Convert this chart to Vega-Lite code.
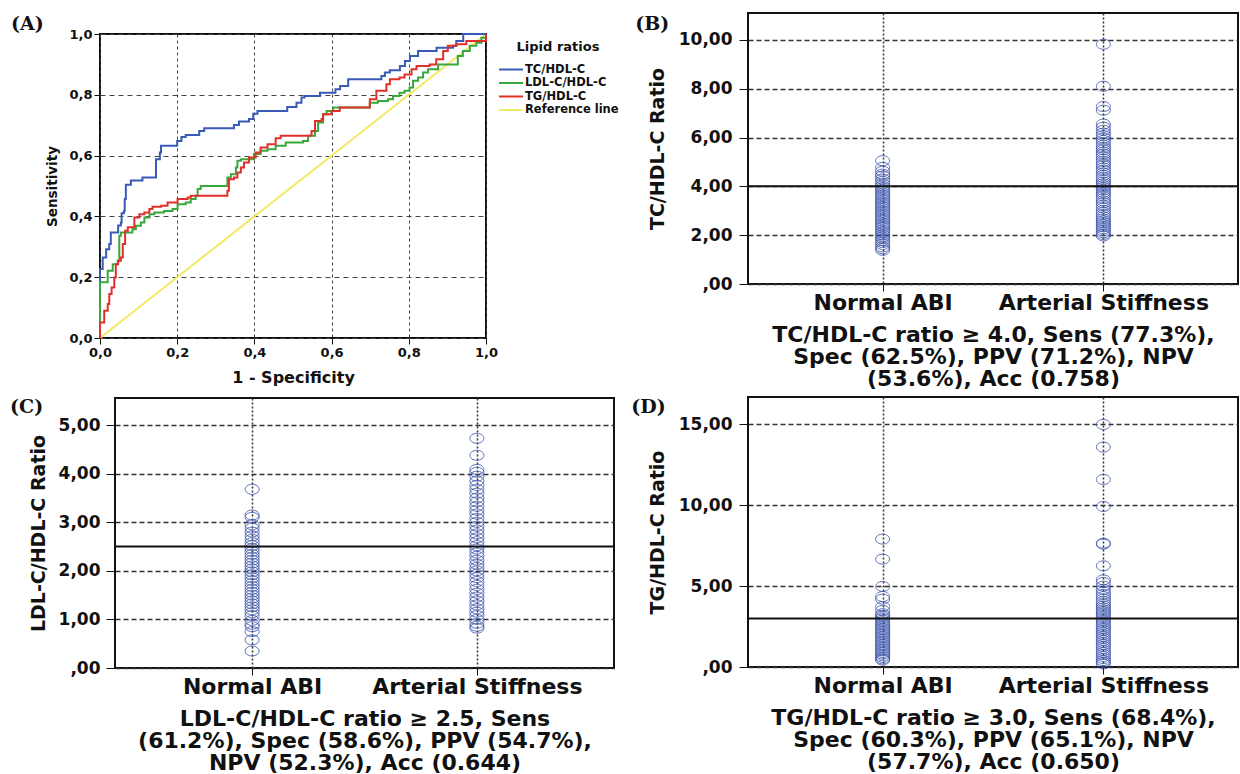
{
  "$schema": "https://vega.github.io/schema/vega-lite/v6.json",
  "background": "white",
  "padding": {"left": 8, "top": 12, "right": 0, "bottom": 0},
  "config": {
    "view": {"stroke": "#111", "strokeWidth": 2},
    "axis": {"labelFont": "DejaVu Sans", "titleFont": "DejaVu Sans", "labelFontWeight": "bold", "titleFontWeight": "bold", "labelColor": "#111", "titleColor": "#111", "tickColor": "#111", "domain": false, "gridColor": "#333", "gridOpacity": 1, "labelLimit": 0},
    "title": {"font": "DejaVu Serif", "fontSize": 19, "fontWeight": "bold", "color": "#111", "anchor": "start", "frame": "bounds"}
  },
  "datasets": {
    "roc": [
      {"s": "Reference line", "i": 0, "x": 0, "y": 0},
      {"s": "Reference line", "i": 1, "x": 1, "y": 1},
      {"s": "TC/HDL-C", "i": 0, "x": 0, "y": 0},
      {"s": "TC/HDL-C", "i": 1, "x": 0, "y": 0.227},
      {"s": "TC/HDL-C", "i": 2, "x": 0.007, "y": 0.265},
      {"s": "TC/HDL-C", "i": 3, "x": 0.016, "y": 0.292},
      {"s": "TC/HDL-C", "i": 4, "x": 0.024, "y": 0.309},
      {"s": "TC/HDL-C", "i": 5, "x": 0.028, "y": 0.347},
      {"s": "TC/HDL-C", "i": 6, "x": 0.047, "y": 0.37},
      {"s": "TC/HDL-C", "i": 7, "x": 0.054, "y": 0.38},
      {"s": "TC/HDL-C", "i": 8, "x": 0.056, "y": 0.41},
      {"s": "TC/HDL-C", "i": 9, "x": 0.062, "y": 0.418},
      {"s": "TC/HDL-C", "i": 10, "x": 0.064, "y": 0.457},
      {"s": "TC/HDL-C", "i": 11, "x": 0.067, "y": 0.504},
      {"s": "TC/HDL-C", "i": 12, "x": 0.08, "y": 0.518},
      {"s": "TC/HDL-C", "i": 13, "x": 0.11, "y": 0.528},
      {"s": "TC/HDL-C", "i": 14, "x": 0.145, "y": 0.588},
      {"s": "TC/HDL-C", "i": 15, "x": 0.155, "y": 0.61},
      {"s": "TC/HDL-C", "i": 16, "x": 0.158, "y": 0.632},
      {"s": "TC/HDL-C", "i": 17, "x": 0.2, "y": 0.648},
      {"s": "TC/HDL-C", "i": 18, "x": 0.211, "y": 0.661},
      {"s": "TC/HDL-C", "i": 19, "x": 0.222, "y": 0.668},
      {"s": "TC/HDL-C", "i": 20, "x": 0.257, "y": 0.681},
      {"s": "TC/HDL-C", "i": 21, "x": 0.27, "y": 0.69},
      {"s": "TC/HDL-C", "i": 22, "x": 0.347, "y": 0.701},
      {"s": "TC/HDL-C", "i": 23, "x": 0.36, "y": 0.712},
      {"s": "TC/HDL-C", "i": 24, "x": 0.386, "y": 0.72},
      {"s": "TC/HDL-C", "i": 25, "x": 0.397, "y": 0.738},
      {"s": "TC/HDL-C", "i": 26, "x": 0.408, "y": 0.747},
      {"s": "TC/HDL-C", "i": 27, "x": 0.485, "y": 0.76},
      {"s": "TC/HDL-C", "i": 28, "x": 0.509, "y": 0.774},
      {"s": "TC/HDL-C", "i": 29, "x": 0.522, "y": 0.791},
      {"s": "TC/HDL-C", "i": 30, "x": 0.53, "y": 0.796},
      {"s": "TC/HDL-C", "i": 31, "x": 0.57, "y": 0.807},
      {"s": "TC/HDL-C", "i": 32, "x": 0.61, "y": 0.818},
      {"s": "TC/HDL-C", "i": 33, "x": 0.622, "y": 0.829},
      {"s": "TC/HDL-C", "i": 34, "x": 0.643, "y": 0.851},
      {"s": "TC/HDL-C", "i": 35, "x": 0.729, "y": 0.862},
      {"s": "TC/HDL-C", "i": 36, "x": 0.738, "y": 0.873},
      {"s": "TC/HDL-C", "i": 37, "x": 0.751, "y": 0.881},
      {"s": "TC/HDL-C", "i": 38, "x": 0.777, "y": 0.895},
      {"s": "TC/HDL-C", "i": 39, "x": 0.79, "y": 0.911},
      {"s": "TC/HDL-C", "i": 40, "x": 0.803, "y": 0.928},
      {"s": "TC/HDL-C", "i": 41, "x": 0.824, "y": 0.944},
      {"s": "TC/HDL-C", "i": 42, "x": 0.872, "y": 0.955},
      {"s": "TC/HDL-C", "i": 43, "x": 0.915, "y": 0.961},
      {"s": "TC/HDL-C", "i": 44, "x": 0.923, "y": 0.977},
      {"s": "TC/HDL-C", "i": 45, "x": 0.941, "y": 1.0},
      {"s": "TC/HDL-C", "i": 46, "x": 1.0, "y": 1.0},
      {"s": "LDL-C/HDL-C", "i": 0, "x": 0, "y": 0},
      {"s": "LDL-C/HDL-C", "i": 1, "x": 0, "y": 0.183},
      {"s": "LDL-C/HDL-C", "i": 2, "x": 0.02, "y": 0.221},
      {"s": "LDL-C/HDL-C", "i": 3, "x": 0.033, "y": 0.243},
      {"s": "LDL-C/HDL-C", "i": 4, "x": 0.046, "y": 0.254},
      {"s": "LDL-C/HDL-C", "i": 5, "x": 0.05, "y": 0.336},
      {"s": "LDL-C/HDL-C", "i": 6, "x": 0.054, "y": 0.347},
      {"s": "LDL-C/HDL-C", "i": 7, "x": 0.084, "y": 0.358},
      {"s": "LDL-C/HDL-C", "i": 8, "x": 0.093, "y": 0.369},
      {"s": "LDL-C/HDL-C", "i": 9, "x": 0.106, "y": 0.38},
      {"s": "LDL-C/HDL-C", "i": 10, "x": 0.115, "y": 0.396},
      {"s": "LDL-C/HDL-C", "i": 11, "x": 0.128, "y": 0.407},
      {"s": "LDL-C/HDL-C", "i": 12, "x": 0.141, "y": 0.413},
      {"s": "LDL-C/HDL-C", "i": 13, "x": 0.166, "y": 0.418},
      {"s": "LDL-C/HDL-C", "i": 14, "x": 0.188, "y": 0.424},
      {"s": "LDL-C/HDL-C", "i": 15, "x": 0.201, "y": 0.44},
      {"s": "LDL-C/HDL-C", "i": 16, "x": 0.222, "y": 0.446},
      {"s": "LDL-C/HDL-C", "i": 17, "x": 0.235, "y": 0.457},
      {"s": "LDL-C/HDL-C", "i": 18, "x": 0.248, "y": 0.468},
      {"s": "LDL-C/HDL-C", "i": 19, "x": 0.253, "y": 0.49},
      {"s": "LDL-C/HDL-C", "i": 20, "x": 0.261, "y": 0.5},
      {"s": "LDL-C/HDL-C", "i": 21, "x": 0.33, "y": 0.528},
      {"s": "LDL-C/HDL-C", "i": 22, "x": 0.339, "y": 0.539},
      {"s": "LDL-C/HDL-C", "i": 23, "x": 0.352, "y": 0.561},
      {"s": "LDL-C/HDL-C", "i": 24, "x": 0.356, "y": 0.583},
      {"s": "LDL-C/HDL-C", "i": 25, "x": 0.365, "y": 0.588},
      {"s": "LDL-C/HDL-C", "i": 26, "x": 0.399, "y": 0.605},
      {"s": "LDL-C/HDL-C", "i": 27, "x": 0.416, "y": 0.616},
      {"s": "LDL-C/HDL-C", "i": 28, "x": 0.434, "y": 0.621},
      {"s": "LDL-C/HDL-C", "i": 29, "x": 0.455, "y": 0.632},
      {"s": "LDL-C/HDL-C", "i": 30, "x": 0.481, "y": 0.643},
      {"s": "LDL-C/HDL-C", "i": 31, "x": 0.526, "y": 0.648},
      {"s": "LDL-C/HDL-C", "i": 32, "x": 0.539, "y": 0.665},
      {"s": "LDL-C/HDL-C", "i": 33, "x": 0.557, "y": 0.681},
      {"s": "LDL-C/HDL-C", "i": 34, "x": 0.565, "y": 0.709},
      {"s": "LDL-C/HDL-C", "i": 35, "x": 0.578, "y": 0.736},
      {"s": "LDL-C/HDL-C", "i": 36, "x": 0.587, "y": 0.747},
      {"s": "LDL-C/HDL-C", "i": 37, "x": 0.604, "y": 0.758},
      {"s": "LDL-C/HDL-C", "i": 38, "x": 0.699, "y": 0.774},
      {"s": "LDL-C/HDL-C", "i": 39, "x": 0.72, "y": 0.78},
      {"s": "LDL-C/HDL-C", "i": 40, "x": 0.746, "y": 0.785},
      {"s": "LDL-C/HDL-C", "i": 41, "x": 0.759, "y": 0.796},
      {"s": "LDL-C/HDL-C", "i": 42, "x": 0.776, "y": 0.807},
      {"s": "LDL-C/HDL-C", "i": 43, "x": 0.789, "y": 0.813},
      {"s": "LDL-C/HDL-C", "i": 44, "x": 0.802, "y": 0.824},
      {"s": "LDL-C/HDL-C", "i": 45, "x": 0.811, "y": 0.846},
      {"s": "LDL-C/HDL-C", "i": 46, "x": 0.824, "y": 0.857},
      {"s": "LDL-C/HDL-C", "i": 47, "x": 0.837, "y": 0.873},
      {"s": "LDL-C/HDL-C", "i": 48, "x": 0.85, "y": 0.884},
      {"s": "LDL-C/HDL-C", "i": 49, "x": 0.876, "y": 0.9},
      {"s": "LDL-C/HDL-C", "i": 50, "x": 0.927, "y": 0.928},
      {"s": "LDL-C/HDL-C", "i": 51, "x": 0.94, "y": 0.944},
      {"s": "LDL-C/HDL-C", "i": 52, "x": 0.958, "y": 0.961},
      {"s": "LDL-C/HDL-C", "i": 53, "x": 0.975, "y": 0.971},
      {"s": "LDL-C/HDL-C", "i": 54, "x": 0.988, "y": 0.988},
      {"s": "LDL-C/HDL-C", "i": 55, "x": 1.0, "y": 1.0},
      {"s": "TG/HDL-C", "i": 0, "x": 0, "y": 0},
      {"s": "TG/HDL-C", "i": 1, "x": 0, "y": 0.051},
      {"s": "TG/HDL-C", "i": 2, "x": 0.011, "y": 0.09},
      {"s": "TG/HDL-C", "i": 3, "x": 0.02, "y": 0.112},
      {"s": "TG/HDL-C", "i": 4, "x": 0.024, "y": 0.145},
      {"s": "TG/HDL-C", "i": 5, "x": 0.03, "y": 0.166},
      {"s": "TG/HDL-C", "i": 6, "x": 0.037, "y": 0.199},
      {"s": "TG/HDL-C", "i": 7, "x": 0.041, "y": 0.243},
      {"s": "TG/HDL-C", "i": 8, "x": 0.047, "y": 0.254},
      {"s": "TG/HDL-C", "i": 9, "x": 0.054, "y": 0.265},
      {"s": "TG/HDL-C", "i": 10, "x": 0.059, "y": 0.309},
      {"s": "TG/HDL-C", "i": 11, "x": 0.065, "y": 0.353},
      {"s": "TG/HDL-C", "i": 12, "x": 0.072, "y": 0.364},
      {"s": "TG/HDL-C", "i": 13, "x": 0.089, "y": 0.396},
      {"s": "TG/HDL-C", "i": 14, "x": 0.102, "y": 0.407},
      {"s": "TG/HDL-C", "i": 15, "x": 0.115, "y": 0.413},
      {"s": "TG/HDL-C", "i": 16, "x": 0.128, "y": 0.424},
      {"s": "TG/HDL-C", "i": 17, "x": 0.136, "y": 0.432},
      {"s": "TG/HDL-C", "i": 18, "x": 0.158, "y": 0.435},
      {"s": "TG/HDL-C", "i": 19, "x": 0.175, "y": 0.446},
      {"s": "TG/HDL-C", "i": 20, "x": 0.201, "y": 0.457},
      {"s": "TG/HDL-C", "i": 21, "x": 0.227, "y": 0.462},
      {"s": "TG/HDL-C", "i": 22, "x": 0.235, "y": 0.468},
      {"s": "TG/HDL-C", "i": 23, "x": 0.33, "y": 0.484},
      {"s": "TG/HDL-C", "i": 24, "x": 0.334, "y": 0.522},
      {"s": "TG/HDL-C", "i": 25, "x": 0.347, "y": 0.528},
      {"s": "TG/HDL-C", "i": 26, "x": 0.356, "y": 0.544},
      {"s": "TG/HDL-C", "i": 27, "x": 0.365, "y": 0.561},
      {"s": "TG/HDL-C", "i": 28, "x": 0.373, "y": 0.577},
      {"s": "TG/HDL-C", "i": 29, "x": 0.386, "y": 0.594},
      {"s": "TG/HDL-C", "i": 30, "x": 0.403, "y": 0.61},
      {"s": "TG/HDL-C", "i": 31, "x": 0.416, "y": 0.627},
      {"s": "TG/HDL-C", "i": 32, "x": 0.434, "y": 0.637},
      {"s": "TG/HDL-C", "i": 33, "x": 0.455, "y": 0.657},
      {"s": "TG/HDL-C", "i": 34, "x": 0.468, "y": 0.665},
      {"s": "TG/HDL-C", "i": 35, "x": 0.548, "y": 0.681},
      {"s": "TG/HDL-C", "i": 36, "x": 0.557, "y": 0.714},
      {"s": "TG/HDL-C", "i": 37, "x": 0.574, "y": 0.72},
      {"s": "TG/HDL-C", "i": 38, "x": 0.578, "y": 0.736},
      {"s": "TG/HDL-C", "i": 39, "x": 0.6, "y": 0.747},
      {"s": "TG/HDL-C", "i": 40, "x": 0.621, "y": 0.758},
      {"s": "TG/HDL-C", "i": 41, "x": 0.699, "y": 0.785},
      {"s": "TG/HDL-C", "i": 42, "x": 0.716, "y": 0.813},
      {"s": "TG/HDL-C", "i": 43, "x": 0.742, "y": 0.835},
      {"s": "TG/HDL-C", "i": 44, "x": 0.751, "y": 0.851},
      {"s": "TG/HDL-C", "i": 45, "x": 0.776, "y": 0.857},
      {"s": "TG/HDL-C", "i": 46, "x": 0.789, "y": 0.867},
      {"s": "TG/HDL-C", "i": 47, "x": 0.807, "y": 0.884},
      {"s": "TG/HDL-C", "i": 48, "x": 0.82, "y": 0.895},
      {"s": "TG/HDL-C", "i": 49, "x": 0.854, "y": 0.9},
      {"s": "TG/HDL-C", "i": 50, "x": 0.871, "y": 0.917},
      {"s": "TG/HDL-C", "i": 51, "x": 0.889, "y": 0.944},
      {"s": "TG/HDL-C", "i": 52, "x": 0.901, "y": 0.961},
      {"s": "TG/HDL-C", "i": 53, "x": 0.923, "y": 0.966},
      {"s": "TG/HDL-C", "i": 54, "x": 0.949, "y": 0.977},
      {"s": "TG/HDL-C", "i": 55, "x": 1.0, "y": 1.0}
    ],
    "tc": [
      {"g": "Normal ABI", "v": 5.05}, {"g": "Normal ABI", "v": 4.78}, {"g": "Normal ABI", "v": 4.62}, {"g": "Normal ABI", "v": 4.5}, {"g": "Normal ABI", "v": 4.42}, {"g": "Normal ABI", "v": 4.3}, {"g": "Normal ABI", "v": 4.2}, {"g": "Normal ABI", "v": 4.1}, {"g": "Normal ABI", "v": 4.02}, {"g": "Normal ABI", "v": 3.95}, {"g": "Normal ABI", "v": 3.88}, {"g": "Normal ABI", "v": 3.8}, {"g": "Normal ABI", "v": 3.72}, {"g": "Normal ABI", "v": 3.65}, {"g": "Normal ABI", "v": 3.58}, {"g": "Normal ABI", "v": 3.5}, {"g": "Normal ABI", "v": 3.43}, {"g": "Normal ABI", "v": 3.36}, {"g": "Normal ABI", "v": 3.3}, {"g": "Normal ABI", "v": 3.22}, {"g": "Normal ABI", "v": 3.15}, {"g": "Normal ABI", "v": 3.08}, {"g": "Normal ABI", "v": 3.0}, {"g": "Normal ABI", "v": 2.93}, {"g": "Normal ABI", "v": 2.86}, {"g": "Normal ABI", "v": 2.8}, {"g": "Normal ABI", "v": 2.72}, {"g": "Normal ABI", "v": 2.65}, {"g": "Normal ABI", "v": 2.58}, {"g": "Normal ABI", "v": 2.5}, {"g": "Normal ABI", "v": 2.43}, {"g": "Normal ABI", "v": 2.36}, {"g": "Normal ABI", "v": 2.3}, {"g": "Normal ABI", "v": 2.22}, {"g": "Normal ABI", "v": 2.15}, {"g": "Normal ABI", "v": 2.08}, {"g": "Normal ABI", "v": 2.0}, {"g": "Normal ABI", "v": 1.93}, {"g": "Normal ABI", "v": 1.86}, {"g": "Normal ABI", "v": 1.78}, {"g": "Normal ABI", "v": 1.7}, {"g": "Normal ABI", "v": 1.62}, {"g": "Normal ABI", "v": 1.52}, {"g": "Normal ABI", "v": 1.45}, {"g": "Normal ABI", "v": 1.38},
      {"g": "Arterial Stiffness", "v": 9.82}, {"g": "Arterial Stiffness", "v": 8.1}, {"g": "Arterial Stiffness", "v": 7.27}, {"g": "Arterial Stiffness", "v": 7.12}, {"g": "Arterial Stiffness", "v": 6.55}, {"g": "Arterial Stiffness", "v": 6.42}, {"g": "Arterial Stiffness", "v": 6.3}, {"g": "Arterial Stiffness", "v": 6.18}, {"g": "Arterial Stiffness", "v": 6.08}, {"g": "Arterial Stiffness", "v": 5.98}, {"g": "Arterial Stiffness", "v": 5.88}, {"g": "Arterial Stiffness", "v": 5.78}, {"g": "Arterial Stiffness", "v": 5.68}, {"g": "Arterial Stiffness", "v": 5.58}, {"g": "Arterial Stiffness", "v": 5.5}, {"g": "Arterial Stiffness", "v": 5.4}, {"g": "Arterial Stiffness", "v": 5.32}, {"g": "Arterial Stiffness", "v": 5.22}, {"g": "Arterial Stiffness", "v": 5.12}, {"g": "Arterial Stiffness", "v": 5.02}, {"g": "Arterial Stiffness", "v": 4.92}, {"g": "Arterial Stiffness", "v": 4.85}, {"g": "Arterial Stiffness", "v": 4.75}, {"g": "Arterial Stiffness", "v": 4.65}, {"g": "Arterial Stiffness", "v": 4.55}, {"g": "Arterial Stiffness", "v": 4.45}, {"g": "Arterial Stiffness", "v": 4.36}, {"g": "Arterial Stiffness", "v": 4.27}, {"g": "Arterial Stiffness", "v": 4.18}, {"g": "Arterial Stiffness", "v": 4.1}, {"g": "Arterial Stiffness", "v": 4.02}, {"g": "Arterial Stiffness", "v": 3.94}, {"g": "Arterial Stiffness", "v": 3.85}, {"g": "Arterial Stiffness", "v": 3.76}, {"g": "Arterial Stiffness", "v": 3.68}, {"g": "Arterial Stiffness", "v": 3.6}, {"g": "Arterial Stiffness", "v": 3.5}, {"g": "Arterial Stiffness", "v": 3.4}, {"g": "Arterial Stiffness", "v": 3.32}, {"g": "Arterial Stiffness", "v": 3.22}, {"g": "Arterial Stiffness", "v": 3.12}, {"g": "Arterial Stiffness", "v": 3.02}, {"g": "Arterial Stiffness", "v": 2.93}, {"g": "Arterial Stiffness", "v": 2.84}, {"g": "Arterial Stiffness", "v": 2.75}, {"g": "Arterial Stiffness", "v": 2.66}, {"g": "Arterial Stiffness", "v": 2.58}, {"g": "Arterial Stiffness", "v": 2.5}, {"g": "Arterial Stiffness", "v": 2.42}, {"g": "Arterial Stiffness", "v": 2.34}, {"g": "Arterial Stiffness", "v": 2.26}, {"g": "Arterial Stiffness", "v": 2.18}, {"g": "Arterial Stiffness", "v": 2.1}, {"g": "Arterial Stiffness", "v": 2.03}, {"g": "Arterial Stiffness", "v": 1.97}
    ],
    "ldl": [
      {"g": "Normal ABI", "v": 3.68}, {"g": "Normal ABI", "v": 3.15}, {"g": "Normal ABI", "v": 3.1}, {"g": "Normal ABI", "v": 2.95}, {"g": "Normal ABI", "v": 2.88}, {"g": "Normal ABI", "v": 2.8}, {"g": "Normal ABI", "v": 2.72}, {"g": "Normal ABI", "v": 2.65}, {"g": "Normal ABI", "v": 2.58}, {"g": "Normal ABI", "v": 2.52}, {"g": "Normal ABI", "v": 2.46}, {"g": "Normal ABI", "v": 2.4}, {"g": "Normal ABI", "v": 2.34}, {"g": "Normal ABI", "v": 2.28}, {"g": "Normal ABI", "v": 2.22}, {"g": "Normal ABI", "v": 2.16}, {"g": "Normal ABI", "v": 2.1}, {"g": "Normal ABI", "v": 2.04}, {"g": "Normal ABI", "v": 1.98}, {"g": "Normal ABI", "v": 1.92}, {"g": "Normal ABI", "v": 1.86}, {"g": "Normal ABI", "v": 1.8}, {"g": "Normal ABI", "v": 1.74}, {"g": "Normal ABI", "v": 1.68}, {"g": "Normal ABI", "v": 1.62}, {"g": "Normal ABI", "v": 1.56}, {"g": "Normal ABI", "v": 1.5}, {"g": "Normal ABI", "v": 1.44}, {"g": "Normal ABI", "v": 1.38}, {"g": "Normal ABI", "v": 1.32}, {"g": "Normal ABI", "v": 1.26}, {"g": "Normal ABI", "v": 1.2}, {"g": "Normal ABI", "v": 1.14}, {"g": "Normal ABI", "v": 1.08}, {"g": "Normal ABI", "v": 0.98}, {"g": "Normal ABI", "v": 0.9}, {"g": "Normal ABI", "v": 0.85}, {"g": "Normal ABI", "v": 0.75}, {"g": "Normal ABI", "v": 0.58}, {"g": "Normal ABI", "v": 0.35},
      {"g": "Arterial Stiffness", "v": 4.73}, {"g": "Arterial Stiffness", "v": 4.38}, {"g": "Arterial Stiffness", "v": 4.09}, {"g": "Arterial Stiffness", "v": 4.03}, {"g": "Arterial Stiffness", "v": 3.95}, {"g": "Arterial Stiffness", "v": 3.85}, {"g": "Arterial Stiffness", "v": 3.76}, {"g": "Arterial Stiffness", "v": 3.68}, {"g": "Arterial Stiffness", "v": 3.6}, {"g": "Arterial Stiffness", "v": 3.5}, {"g": "Arterial Stiffness", "v": 3.42}, {"g": "Arterial Stiffness", "v": 3.33}, {"g": "Arterial Stiffness", "v": 3.25}, {"g": "Arterial Stiffness", "v": 3.17}, {"g": "Arterial Stiffness", "v": 3.08}, {"g": "Arterial Stiffness", "v": 3.0}, {"g": "Arterial Stiffness", "v": 2.92}, {"g": "Arterial Stiffness", "v": 2.84}, {"g": "Arterial Stiffness", "v": 2.76}, {"g": "Arterial Stiffness", "v": 2.68}, {"g": "Arterial Stiffness", "v": 2.6}, {"g": "Arterial Stiffness", "v": 2.52}, {"g": "Arterial Stiffness", "v": 2.45}, {"g": "Arterial Stiffness", "v": 2.37}, {"g": "Arterial Stiffness", "v": 2.3}, {"g": "Arterial Stiffness", "v": 2.22}, {"g": "Arterial Stiffness", "v": 2.14}, {"g": "Arterial Stiffness", "v": 2.07}, {"g": "Arterial Stiffness", "v": 2.0}, {"g": "Arterial Stiffness", "v": 1.93}, {"g": "Arterial Stiffness", "v": 1.86}, {"g": "Arterial Stiffness", "v": 1.78}, {"g": "Arterial Stiffness", "v": 1.7}, {"g": "Arterial Stiffness", "v": 1.62}, {"g": "Arterial Stiffness", "v": 1.54}, {"g": "Arterial Stiffness", "v": 1.46}, {"g": "Arterial Stiffness", "v": 1.38}, {"g": "Arterial Stiffness", "v": 1.3}, {"g": "Arterial Stiffness", "v": 1.22}, {"g": "Arterial Stiffness", "v": 1.15}, {"g": "Arterial Stiffness", "v": 1.08}, {"g": "Arterial Stiffness", "v": 1.0}, {"g": "Arterial Stiffness", "v": 0.92}, {"g": "Arterial Stiffness", "v": 0.86}, {"g": "Arterial Stiffness", "v": 0.82}
    ],
    "tg": [
      {"g": "Normal ABI", "v": 7.91}, {"g": "Normal ABI", "v": 6.67}, {"g": "Normal ABI", "v": 4.98}, {"g": "Normal ABI", "v": 4.36}, {"g": "Normal ABI", "v": 4.2}, {"g": "Normal ABI", "v": 3.74}, {"g": "Normal ABI", "v": 3.5}, {"g": "Normal ABI", "v": 3.3}, {"g": "Normal ABI", "v": 3.2}, {"g": "Normal ABI", "v": 3.1}, {"g": "Normal ABI", "v": 3.0}, {"g": "Normal ABI", "v": 2.9}, {"g": "Normal ABI", "v": 2.8}, {"g": "Normal ABI", "v": 2.7}, {"g": "Normal ABI", "v": 2.6}, {"g": "Normal ABI", "v": 2.5}, {"g": "Normal ABI", "v": 2.4}, {"g": "Normal ABI", "v": 2.3}, {"g": "Normal ABI", "v": 2.2}, {"g": "Normal ABI", "v": 2.1}, {"g": "Normal ABI", "v": 2.0}, {"g": "Normal ABI", "v": 1.9}, {"g": "Normal ABI", "v": 1.8}, {"g": "Normal ABI", "v": 1.7}, {"g": "Normal ABI", "v": 1.6}, {"g": "Normal ABI", "v": 1.5}, {"g": "Normal ABI", "v": 1.4}, {"g": "Normal ABI", "v": 1.3}, {"g": "Normal ABI", "v": 1.2}, {"g": "Normal ABI", "v": 1.1}, {"g": "Normal ABI", "v": 1.0}, {"g": "Normal ABI", "v": 0.9}, {"g": "Normal ABI", "v": 0.8}, {"g": "Normal ABI", "v": 0.7}, {"g": "Normal ABI", "v": 0.6}, {"g": "Normal ABI", "v": 0.5}, {"g": "Normal ABI", "v": 0.43},
      {"g": "Arterial Stiffness", "v": 15.0}, {"g": "Arterial Stiffness", "v": 13.6}, {"g": "Arterial Stiffness", "v": 11.6}, {"g": "Arterial Stiffness", "v": 9.93}, {"g": "Arterial Stiffness", "v": 7.66}, {"g": "Arterial Stiffness", "v": 7.6}, {"g": "Arterial Stiffness", "v": 6.26}, {"g": "Arterial Stiffness", "v": 5.39}, {"g": "Arterial Stiffness", "v": 5.23}, {"g": "Arterial Stiffness", "v": 5.0}, {"g": "Arterial Stiffness", "v": 4.8}, {"g": "Arterial Stiffness", "v": 4.65}, {"g": "Arterial Stiffness", "v": 4.5}, {"g": "Arterial Stiffness", "v": 4.35}, {"g": "Arterial Stiffness", "v": 4.2}, {"g": "Arterial Stiffness", "v": 4.05}, {"g": "Arterial Stiffness", "v": 3.9}, {"g": "Arterial Stiffness", "v": 3.78}, {"g": "Arterial Stiffness", "v": 3.65}, {"g": "Arterial Stiffness", "v": 3.52}, {"g": "Arterial Stiffness", "v": 3.4}, {"g": "Arterial Stiffness", "v": 3.28}, {"g": "Arterial Stiffness", "v": 3.15}, {"g": "Arterial Stiffness", "v": 3.02}, {"g": "Arterial Stiffness", "v": 2.9}, {"g": "Arterial Stiffness", "v": 2.78}, {"g": "Arterial Stiffness", "v": 2.65}, {"g": "Arterial Stiffness", "v": 2.52}, {"g": "Arterial Stiffness", "v": 2.4}, {"g": "Arterial Stiffness", "v": 2.28}, {"g": "Arterial Stiffness", "v": 2.15}, {"g": "Arterial Stiffness", "v": 2.02}, {"g": "Arterial Stiffness", "v": 1.9}, {"g": "Arterial Stiffness", "v": 1.78}, {"g": "Arterial Stiffness", "v": 1.65}, {"g": "Arterial Stiffness", "v": 1.52}, {"g": "Arterial Stiffness", "v": 1.4}, {"g": "Arterial Stiffness", "v": 1.28}, {"g": "Arterial Stiffness", "v": 1.15}, {"g": "Arterial Stiffness", "v": 1.02}, {"g": "Arterial Stiffness", "v": 0.9}, {"g": "Arterial Stiffness", "v": 0.78}, {"g": "Arterial Stiffness", "v": 0.65}, {"g": "Arterial Stiffness", "v": 0.52}, {"g": "Arterial Stiffness", "v": 0.4}, {"g": "Arterial Stiffness", "v": 0.3}, {"g": "Arterial Stiffness", "v": 0.19}
    ]
  },
  "resolve": {"scale": {"color": "independent"}},
  "spacing": 3,
  "hconcat": [
    {
      "resolve": {"scale": {"color": "independent"}},
      "spacing": 11,
      "vconcat": [
        {
          "resolve": {"scale": {"color": "independent"}},
          "spacing": 0,
          "vconcat": [
            {"width": 1, "height": 1, "view": {"stroke": null}, "data": {"values": []}, "mark": "point"},
            {
              "resolve": {"scale": {"color": "independent"}},
              "spacing": 0,
              "hconcat": [
                {"width": 1, "height": 1, "view": {"stroke": null}, "data": {"values": []}, "mark": "point"},
                {
                  "width": 386, "height": 304,
                  "title": {"text": "(A)", "offset": -6, "dx": -35},
                  "data": {"name": "roc"},
                  "encoding": {
                    "x": {"field": "x", "type": "quantitative", "scale": {"domain": [0, 1], "nice": false}, "title": "1 - Specificity",
                          "axis": {"values": [0, 0.2, 0.4, 0.6, 0.8, 1], "labelExpr": "replace(format(datum.value, '.1f'), '.', ',')", "labelFontSize": 13, "tickSize": 6, "labelPadding": 2, "labelFlush": false, "titleFontSize": 16, "titlePadding": 10, "grid": true, "gridDash": [3, 3], "gridColor": "#444", "gridWidth": 1}},
                    "y": {"field": "y", "type": "quantitative", "scale": {"domain": [0, 1], "nice": false}, "title": "Sensitivity",
                          "axis": {"values": [0, 0.2, 0.4, 0.6, 0.8, 1], "labelExpr": "replace(format(datum.value, '.1f'), '.', ',')", "labelFontSize": 13, "tickSize": 6, "labelPadding": 2, "labelFlush": false, "titleFontSize": 13.5, "titlePadding": 9, "grid": true, "gridDash": [5, 4], "gridColor": "#444", "gridWidth": 1}},
                    "color": {"field": "s", "type": "nominal",
                              "scale": {"domain": ["TC/HDL-C", "LDL-C/HDL-C", "TG/HDL-C", "Reference line"], "range": ["#3a5ab8", "#38a83c", "#e0302a", "#f2ea64"]},
                              "legend": {"title": "Lipid ratios", "orient": "right", "offset": 1, "padding": 7, "titleFont": "DejaVu Sans", "titleFontSize": 13, "titleFontWeight": "bold", "titleColor": "#111", "titleAnchor": "middle", "titlePadding": 9, "labelFont": "DejaVu Sans", "labelFontSize": 11.5, "labelFontWeight": "bold", "labelColor": "#111", "symbolType": "M-1,0L3.36,0", "symbolSize": 121, "symbolStrokeWidth": 2, "labelOffset": 14, "rowPadding": 1.5}},
                    "order": {"field": "i", "type": "quantitative"}
                  },
                  "layer": [
                    {"transform": [{"filter": "datum.s == 'Reference line'"}], "mark": {"type": "line", "strokeWidth": 2}},
                    {"transform": [{"filter": "datum.s != 'Reference line'"}], "mark": {"type": "line", "strokeWidth": 2, "interpolate": "step-after"}}
                  ]
                }
              ]
            }
          ]
        },
        {
          "spacing": 0,
          "hconcat": [
            {"width": 1, "height": 1, "view": {"stroke": null}, "data": {"values": []}, "mark": "point"},
            {
              "width": 499, "height": 270,
              "title": {"text": "(C)", "offset": -19, "dx": -19},
              "layer": [
                {
                  "data": {"name": "ldl"},
                  "mark": {"type": "point", "shape": "M-1.4,0A1.4,1,0,1,1,1.4,0A1.4,1,0,1,1,-1.4,0Z", "filled": false, "size": 100, "color": "#3d57b0", "strokeWidth": 1, "opacity": 0.85},
                  "encoding": {
                    "x": {"field": "g", "type": "nominal", "sort": ["Normal ABI", "Arterial Stiffness"], "scale": {"type": "point", "padding": 0.61},
                          "title": ["LDL-C/HDL-C ratio ≥ 2.5, Sens", "(61.2%), Spec (58.6%), PPV (54.7%),", "NPV (52.3%), Acc (0.644)"],
                          "axis": {"labelAngle": 0, "labelFontSize": 22, "labelPadding": 1, "tickSize": 7, "titleFontSize": 22, "titleLineHeight": 22, "titlePadding": 11, "grid": true, "gridDash": [2, 2], "gridWidth": 1.5}},
                    "y": {"field": "v", "type": "quantitative", "scale": {"domain": [0, 5.56], "nice": false}, "title": "LDL-C/HDL-C Ratio",
                          "axis": {"values": [0, 1, 2, 3, 4, 5], "labelExpr": "datum.value == 0 ? ',00' : replace(format(datum.value, '.2f'), '.', ',')", "labelFontSize": 17, "tickSize": 9, "labelPadding": 6, "titleFontSize": 19, "titlePadding": 10, "grid": true, "gridDash": [5, 3], "gridWidth": 1.3}}
                  }
                },
                {
                  "data": {"values": [{"cut": 2.5}]},
                  "mark": {"type": "rule", "color": "#111", "strokeWidth": 2},
                  "encoding": {"y": {"field": "cut", "type": "quantitative", "title": "LDL-C/HDL-C Ratio"}}
                }
              ]
            }
          ]
        }
      ]
    },
    {
      "spacing": 6,
      "vconcat": [
        {
          "width": 490, "height": 271,
          "title": {"text": "(B)", "offset": -21, "dx": -13},
          "layer": [
            {
              "data": {"name": "tc"},
              "mark": {"type": "point", "shape": "M-1.4,0A1.4,1,0,1,1,1.4,0A1.4,1,0,1,1,-1.4,0Z", "filled": false, "size": 100, "color": "#3d57b0", "strokeWidth": 1, "opacity": 0.85},
              "encoding": {
                "x": {"field": "g", "type": "nominal", "sort": ["Normal ABI", "Arterial Stiffness"], "scale": {"type": "point", "padding": 0.61},
                      "title": ["TC/HDL-C ratio ≥ 4.0, Sens (77.3%),", "Spec (62.5%), PPV (71.2%), NPV", "(53.6%), Acc (0.758)"],
                      "axis": {"labelAngle": 0, "labelFontSize": 22, "labelPadding": 1, "tickSize": 7, "titleFontSize": 22, "titleLineHeight": 22, "titlePadding": 11, "grid": true, "gridDash": [2, 2], "gridWidth": 1.5}},
                "y": {"field": "v", "type": "quantitative", "scale": {"domain": [0, 11.1], "nice": false}, "title": "TC/HDL-C Ratio",
                      "axis": {"values": [0, 2, 4, 6, 8, 10], "labelExpr": "datum.value == 0 ? ',00' : replace(format(datum.value, '.2f'), '.', ',')", "labelFontSize": 17, "tickSize": 9, "labelPadding": 7, "titleFontSize": 19, "titlePadding": 11, "grid": true, "gridDash": [5, 3], "gridWidth": 1.3}}
              }
            },
            {
              "data": {"values": [{"cut": 4}]},
              "mark": {"type": "rule", "color": "#111", "strokeWidth": 2},
              "encoding": {"y": {"field": "cut", "type": "quantitative", "title": "TC/HDL-C Ratio"}}
            }
          ]
        },
        {
          "width": 490, "height": 270,
          "title": {"text": "(D)", "offset": -20, "dx": -17},
          "layer": [
            {
              "data": {"name": "tg"},
              "mark": {"type": "point", "shape": "M-1.4,0A1.4,1,0,1,1,1.4,0A1.4,1,0,1,1,-1.4,0Z", "filled": false, "size": 100, "color": "#3d57b0", "strokeWidth": 1, "opacity": 0.85},
              "encoding": {
                "x": {"field": "g", "type": "nominal", "sort": ["Normal ABI", "Arterial Stiffness"], "scale": {"type": "point", "padding": 0.61},
                      "title": ["TG/HDL-C ratio ≥ 3.0, Sens (68.4%),", "Spec (60.3%), PPV (65.1%), NPV", "(57.7%), Acc (0.650)"],
                      "axis": {"labelAngle": 0, "labelFontSize": 22, "labelPadding": 1, "tickSize": 7, "titleFontSize": 22, "titleLineHeight": 22, "titlePadding": 11, "grid": true, "gridDash": [2, 2], "gridWidth": 1.5}},
                "y": {"field": "v", "type": "quantitative", "scale": {"domain": [0, 16.7], "nice": false}, "title": "TG/HDL-C Ratio",
                      "axis": {"values": [0, 5, 10, 15], "labelExpr": "datum.value == 0 ? ',00' : replace(format(datum.value, '.2f'), '.', ',')", "labelFontSize": 17, "tickSize": 9, "labelPadding": 7, "titleFontSize": 19, "titlePadding": 11, "grid": true, "gridDash": [5, 3], "gridWidth": 1.3}}
              }
            },
            {
              "data": {"values": [{"cut": 3}]},
              "mark": {"type": "rule", "color": "#111", "strokeWidth": 2},
              "encoding": {"y": {"field": "cut", "type": "quantitative", "title": "TG/HDL-C Ratio"}}
            }
          ]
        }
      ]
    }
  ]
}
